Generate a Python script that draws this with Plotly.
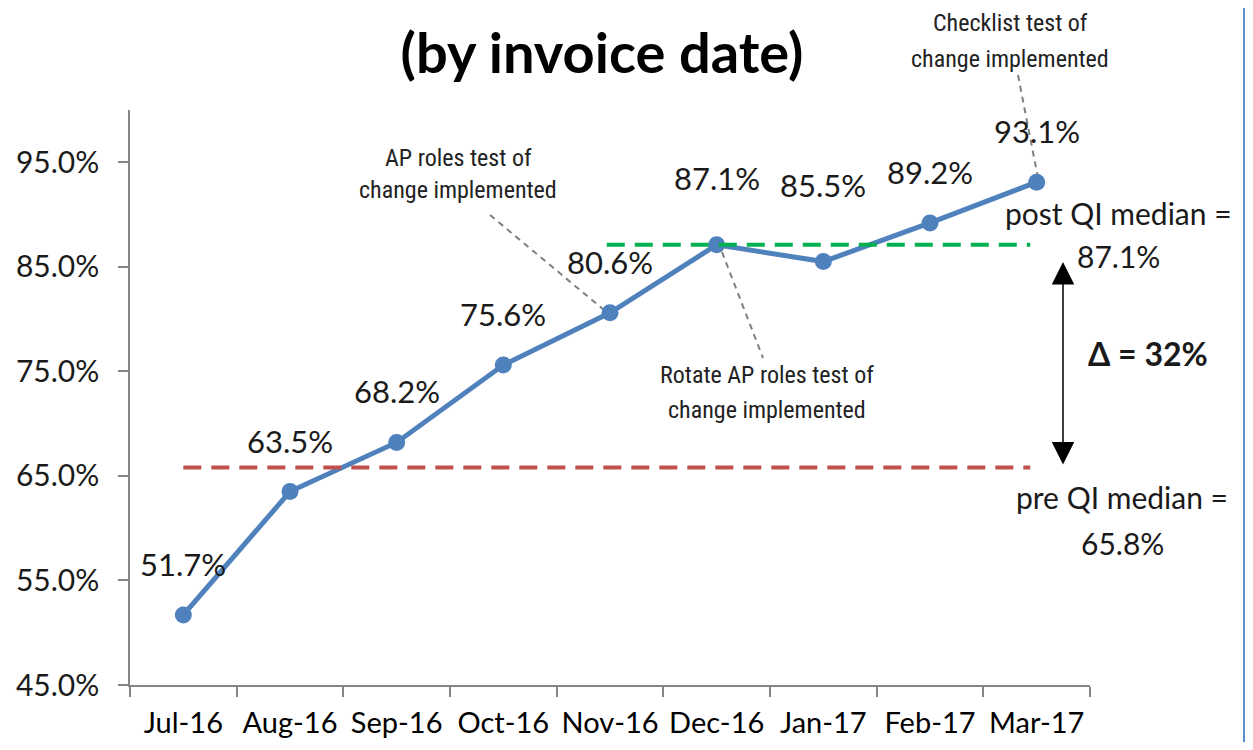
import plotly.graph_objects as go

# ---------------- data ----------------
months = ["Jul-16", "Aug-16", "Sep-16", "Oct-16", "Nov-16", "Dec-16", "Jan-17", "Feb-17", "Mar-17"]
pct_values = [51.7, 63.5, 68.2, 75.6, 80.6, 87.1, 85.5, 89.2, 93.1]
pre_median = 65.8
post_median = 87.1
delta_label = "Δ = 32%"
title_text = "(by invoice date)"
callouts = {
    "ap": ["AP roles test of", "change implemented"],
    "rotate": ["Rotate AP roles test of", "change implemented"],
    "checklist": ["Checklist test of", "change implemented"],
}
post_text = ["post QI median =", "87.1%"]
pre_text = ["pre QI median =", "65.8%"]

# ---------------- layout helpers ----------------
OFF = 8  # page body margin
W, H = 1253 - 2 * OFF, 750 - 2 * OFF
L, T = 130 - OFF, 110 - OFF
PW, PH = 960, 575
R, B = W - L - PW, H - T - PH


def px(x):
    return (x - OFF - L) / PW


def py(y):
    return (H - B - (y - OFF)) / PH


BLUE = "#4F81BD"
RED = "#C0504D"
GREEN = "#00B050"
CAL = "Lato, Calibri, sans-serif"
NARROW = "Liberation Sans Narrow, Arial Narrow, Roboto Condensed, sans-serif"

fig = go.Figure()
fig.add_trace(go.Scatter(
    x=months, y=pct_values, mode="lines+markers",
    line=dict(color=BLUE, width=5),
    marker=dict(color=BLUE, size=17),
    hoverinfo="skip", showlegend=False,
))

annotations = []
# data labels
label_shift = {5: 67, 6: 77}
for i, (m, v) in enumerate(zip(months, pct_values)):
    annotations.append(dict(
        x=m, y=v, xref="x", yref="y", text=f"{v:.1f}%", showarrow=False,
        yshift=label_shift.get(i, 51), xanchor="center", yanchor="middle",
        font=dict(family=CAL, size=31, color="#1a1a1a"),
    ))


def add_text(lines, cx, cys, font, size, bold=False, color="#1a1a1a"):
    for t, cy in zip(lines, cys):
        annotations.append(dict(
            x=px(cx), y=py(cy), xref="paper", yref="paper",
            text=f"<b>{t}</b>" if bold else t, showarrow=False,
            xanchor="center", yanchor="middle", borderpad=0,
            font=dict(family=font, size=size, color=color),
        ))


add_text(callouts["ap"], 458, [158, 190], NARROW, 24, color="#222222")
add_text(callouts["rotate"], 767, [375, 410], NARROW, 24, color="#222222")
add_text(callouts["checklist"], 1010, [23, 59], NARROW, 24, color="#222222")
add_text(post_text, 1118, [213, 256], CAL, 30)
add_text(pre_text, 1122, [497, 543], CAL, 30)
add_text([delta_label], 1148, [353], CAL, 32, bold=True)

# double headed arrow between medians
annotations.append(dict(
    x=px(1063), y=py(262), ax=0, ay=466 - 262,
    xref="paper", yref="paper",
    text="", showarrow=True, arrowhead=2, startarrowhead=2, arrowside="end+start",
    arrowsize=3, startarrowsize=3, arrowwidth=1.5, arrowcolor="black",
))

shapes = []
# median lines
shapes.append(dict(type="line", xref="x", yref="y", x0=0, x1=7.94, y0=pre_median, y1=pre_median,
                   line=dict(color=RED, width=4, dash="18px,10px")))
shapes.append(dict(type="line", xref="x", yref="y", x0=3.97, x1=7.94, y0=post_median, y1=post_median,
                   line=dict(color=GREEN, width=4, dash="18px,10px")))
# leader lines
for (x0, y0, x1, y1) in [(490, 215, 604, 310), (722, 252, 763, 358), (1018, 75, 1038, 178)]:
    shapes.append(dict(type="line", xref="paper", yref="paper",
                       x0=px(x0), y0=py(y0), x1=px(x1), y1=py(y1),
                       line=dict(color="#7f7f7f", width=2, dash="6px,5px"), layer="below"))
# right border line
shapes.append(dict(type="line", xref="paper", yref="paper",
                   x0=px(1244), x1=px(1244), y0=py(OFF), y1=py(H + OFF),
                   line=dict(color="#5B8FD0", width=2)))

fig.update_layout(
    width=W, height=H,
    margin=dict(l=L, r=R, t=T, b=B, autoexpand=False),
    paper_bgcolor="white", plot_bgcolor="white",
    title=dict(text=f"<b>{title_text}</b>", x=px(602), xref="paper", xanchor="center",
               y=1 - (53 - OFF) / H, yanchor="middle", yref="container",
               font=dict(family=CAL, size=56, color="black")),
    annotations=annotations, shapes=shapes,
    xaxis=dict(type="category", range=[-0.5, 8.5], showgrid=False, zeroline=False,
               showline=True, linecolor="#868686", linewidth=1.5,
               ticks="outside", tickson="boundaries", ticklen=10, tickcolor="#868686", tickwidth=1.5,
               tickfont=dict(family=CAL, size=29, color="black"), ticklabelstandoff=11),
    yaxis=dict(range=[45, 100], tick0=45, dtick=10, tickformat=".1f", ticksuffix="%",
               showgrid=False, zeroline=False, showline=True, linecolor="#868686", linewidth=1.5,
               ticks="outside", ticklen=10, tickcolor="#868686", tickwidth=1.5,
               tickfont=dict(family=CAL, size=30, color="#1a1a1a"), ticklabelstandoff=13),
    showlegend=False,
)

fig.write_html("out.html")
